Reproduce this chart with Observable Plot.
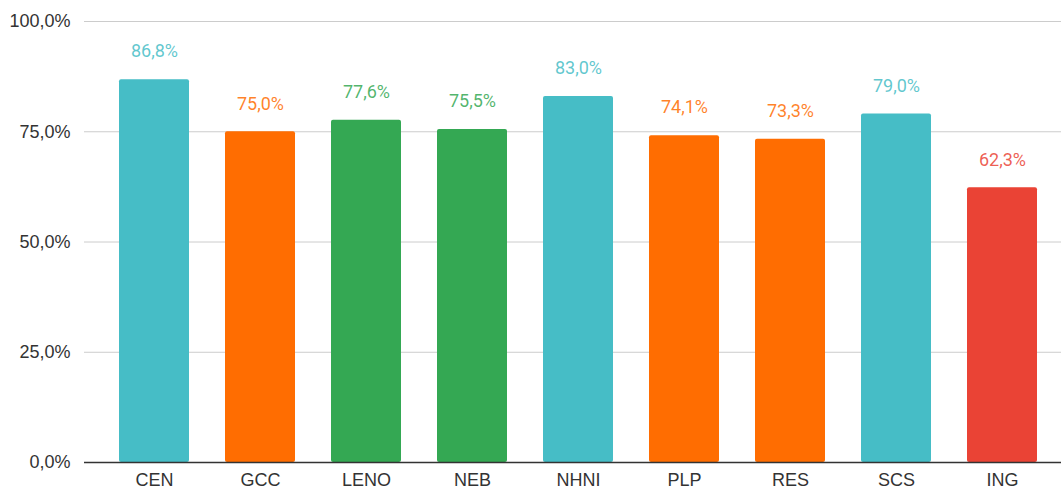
<!DOCTYPE html>
<html><head><meta charset="utf-8">
<script src="https://cdn.jsdelivr.net/npm/d3@7"></script>
<script src="https://cdn.jsdelivr.net/npm/@observablehq/plot@0.6"></script>
<style>
body{margin:0;background:#fff;}
#chart svg{display:block;}
</style>
</head><body><div id="chart"></div>
<script>
const categories = ["CEN","GCC","LENO","NEB","NHNI","PLP","RES","SCS","ING"];
const values = [86.8, 75.0, 77.6, 75.5, 83.0, 74.1, 73.3, 79.0, 62.3];
const colors = ["#46BDC6","#FF6D01","#34A853","#34A853","#46BDC6","#FF6D01","#FF6D01","#46BDC6","#EA4335"];
const yTicks = [0, 25, 50, 75, 100];

const data = categories.map((c, i) => ({cat: c, value: values[i], color: colors[i]}));
const fmt = v => v.toFixed(1).replace(".", ",") + "%";

const chart = Plot.plot({
  width: 1061,
  height: 491,
  marginTop: 21,
  marginBottom: 29,
  marginLeft: 84,
  marginRight: 0,
  style: {fontFamily: "Arial, 'Liberation Sans', sans-serif", fontSize: "18px", color: "#333"},
  x: {domain: categories, paddingInner: 0.34, paddingOuter: 0.17, insetLeft: 16, insetRight: 6, label: null},
  y: {domain: [0, 100], label: null},
  marks: [
    Plot.ruleY(yTicks.filter(d => d > 0), {stroke: "#ccc", strokeWidth: 1, strokeOpacity: 1}),
    Plot.barY(data, {x: "cat", y: "value", fill: d => d.color, rx: 2}),
    Plot.ruleY([0], {stroke: "#333", strokeWidth: 1.5}),
    Plot.text(data, {x: "cat", y: "value", text: d => fmt(d.value), fill: d => d.color, fillOpacity: 0.85, dy: -28, fontFamily: "Roboto, sans-serif", fontSize: 18}),
    Plot.axisY({ticks: yTicks, tickFormat: fmt, tickSize: 0, tickPadding: 14, fontSize: 18, fill: "#333"}),
    Plot.axisX({tickSize: 0, tickPadding: 11, fontSize: 18, fill: "#333"})
  ]
});
document.getElementById("chart").appendChild(chart);
</script>
</body></html>
